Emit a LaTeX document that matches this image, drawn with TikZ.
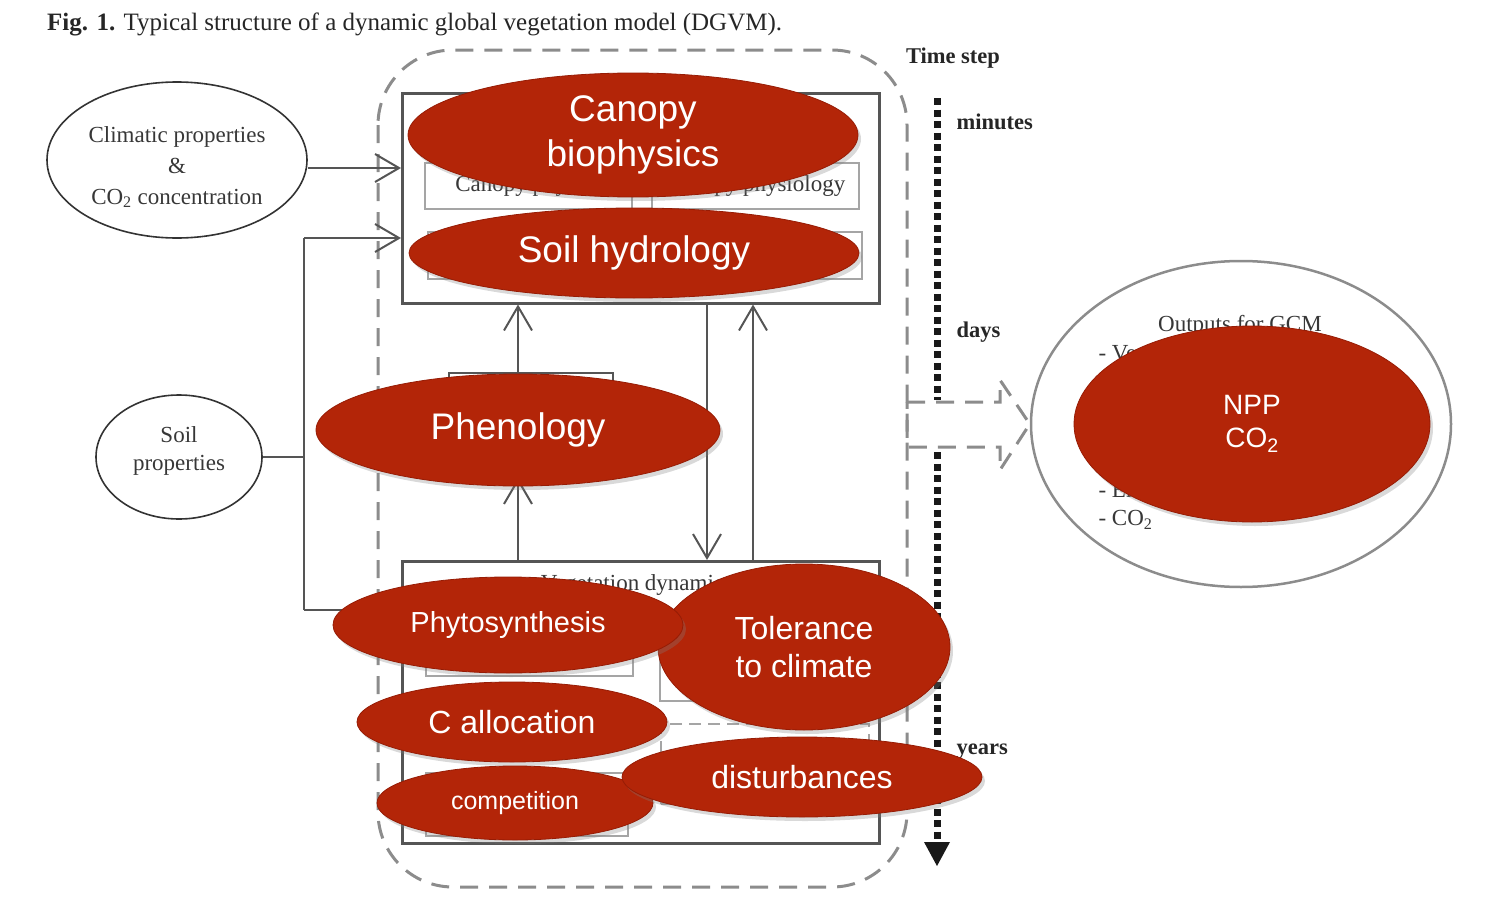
\documentclass[tikz,border=0pt]{standalone}
\usepackage{fontspec}
\setmainfont{Liberation Serif}
\newfontfamily\hv{Liberation Sans}
\usetikzlibrary{shapes.geometric,shadows,arrows.meta,calc}
\definecolor{redfill}{RGB}{179,37,8}
\definecolor{rededge}{RGB}{150,28,5}
\definecolor{txtgray}{RGB}{55,55,55}
\definecolor{linegray}{RGB}{85,85,85}
\definecolor{lightbox}{RGB}{165,165,165}
\definecolor{dashgray}{RGB}{140,140,140}
\tikzset{
  redell/.style={ellipse, fill=redfill, draw=rededge, line width=0.8pt, text=white,
    align=center, inner sep=0pt,
    drop shadow={shadow xshift=3pt, shadow yshift=-4pt, opacity=0.3}},
  serif/.style={text=txtgray, font=\fontsize{23}{30}\selectfont, align=center},
  boldlab/.style={text=black!85, font=\fontsize{22.5}{27}\selectfont\bfseries, anchor=west},
  inbox/.style={draw=lightbox, line width=2pt, rectangle, inner sep=0pt, anchor=north west},
  mainbox/.style={draw=linegray, line width=2.5pt, rectangle, inner sep=0pt, anchor=north west},
  conn/.style={draw=linegray, line width=2pt},
  barb/.style={-{Straight Barb[length=24pt,width=28pt]}},
  dashline/.style={draw=dashgray, line width=3pt, dash pattern=on 18pt off 11pt},
  inputell/.style={ellipse, draw=black!80, line width=1.6pt, inner sep=0pt}
}
\begin{document}
\begin{tikzpicture}[x=1pt,y=-1pt]
\useasboundingbox (0,0) rectangle (1500,910);
% caption
\node[anchor=west, text=black!85, font=\fontsize{25}{30}\selectfont, inner sep=0pt] (cap) at (47,24)
  {\textbf{Fig. 1.} Typical structure of a dynamic global vegetation model (DGVM).};
% big dashed frame
\draw[dashline, rounded corners=75pt] (378,50) rectangle (907,887);
% top box
\node[mainbox, minimum width=477pt, minimum height=210pt] (topbox) at (401,92) {};
\node[inbox, minimum width=207pt, minimum height=46pt, serif] (cphys) at (424,162) {Canopy physics};
\node[inbox, minimum width=207pt, minimum height=46pt, serif] (cphysio) at (651,162) {Canopy physiology};
\node[inbox, minimum width=434pt, minimum height=47pt] (shbox) at (427,231) {};
% vegetation box
\node[mainbox, minimum width=477pt, minimum height=282pt] (vegbox) at (401,560) {};
\node[serif] (vegtxt) at (637,585) {Vegetation dynamics};
\node[inbox, minimum width=207pt, minimum height=55pt] (pbox) at (425,620) {};
\node[inbox, minimum width=209pt, minimum height=80pt] (tbox) at (659,620) {};
\node[inbox, minimum width=208pt, minimum height=80pt, dashed, dash pattern=on 12pt off 7pt] (dbox) at (660,723) {};
\node[inbox, minimum width=202pt, minimum height=63pt] (cbox) at (425,772) {};
% phenology box
\node[mainbox, line width=2pt, minimum width=164pt, minimum height=104pt, fill=white] (phenbox) at (448,372) {};
% input ellipses
\node[inputell, minimum width=260pt, minimum height=156pt] (clim) at (177,160) {};
\node[serif, font=\fontsize{23}{31}\selectfont] (climtxt) at (177,167)
  {Climatic properties\\\&\\CO\textsubscript{2} concentration};
\node[inputell, minimum width=166pt, minimum height=124pt] (soil) at (179,457) {};
\node[serif, font=\fontsize{23}{28}\selectfont] (soiltxt) at (179,451) {Soil\\properties};
% connectors
\coordinate (c1) at ($(clim.east)+(0,8)$);
\draw[conn, barb] (c1) -- (c1 -| topbox.west);
\coordinate (busT) at (304,238);
\coordinate (busB) at (304,610);
\draw[conn] (soil.east) -- (soil.east -| busT);
\draw[conn] (busB) -- (busT);
\draw[conn, barb] (busT) -- (busT -| topbox.west);
\draw[conn, barb] (busB) -- (busB -| vegbox.west);
\coordinate (pa) at (518,0);
\draw[conn, barb] (pa |- phenbox.north) -- (pa |- topbox.south);
\draw[conn, barb] (pa |- vegbox.north) -- (pa |- phenbox.south);
\coordinate (da) at (707,0);
\draw[conn, barb] (da |- topbox.south) -- (da |- vegbox.north);
\coordinate (ua) at (753,0);
\draw[conn, barb] (ua |- vegbox.north) -- (ua |- topbox.south);
% output ellipse
\node[ellipse, draw=dashgray, line width=2.5pt, minimum width=420pt, minimum height=326pt, inner sep=0pt] (out) at (1241,424) {};
\node[serif] (outt) at (1240,326) {Outputs for GCM};
\node[serif, anchor=west] (o1) at (1095,355) {- Vegetation distribution};
\node[serif, anchor=west] (o2) at (1095,492) {- Energy and water fluxes};
\node[serif, anchor=west] (o3) at (1095,520) {- CO\textsubscript{2}};
% dashed output arrow
\draw[dashline] (907,402) -- (1000,402) -- (1000,380) -- (out.west) -- (1000,470) -- (1000,447) -- (907,447) -- cycle;
% time axis
\node[boldlab, anchor=center] (ts) at (953,58) {Time step};
\draw[black!90, line width=7pt, dash pattern=on 7pt off 4.5pt] (937,98) -- (937,400);
\draw[black!90, line width=7pt, dash pattern=on 7pt off 4.5pt] (937,452) -- (937,842);
\fill[black!90] (924,842) -- (950,842) -- (937,866) -- cycle;
\node[boldlab] (tmin) at (953,122) {minutes};
\node[boldlab] (tday) at (953,332) {days};
\node[boldlab] (tyear) at (953,752) {years};
% red overlay ellipses
\node[redell, minimum width=450pt, minimum height=124pt, font=\hv\fontsize{37}{45}\selectfont] (canopy) at (633,135) {Canopy\\biophysics};
\node[redell, minimum width=450pt, minimum height=90pt, font=\hv\fontsize{37}{45}\selectfont] (soilh) at (634,253) {Soil hydrology};
\node[redell, minimum width=404pt, minimum height=112pt, font=\hv\fontsize{37}{45}\selectfont] (phen) at (518,430) {Phenology};
\node[redell, minimum width=292pt, minimum height=166pt, font=\hv\fontsize{32}{38}\selectfont] (tol) at (804,647) {Tolerance\\to climate};
\node[redell, minimum width=350pt, minimum height=96pt, font=\hv\fontsize{29}{35}\selectfont] (photo) at (508,625) {Phytosynthesis};
\node[redell, minimum width=310pt, minimum height=80pt, font=\hv\fontsize{32}{38}\selectfont] (calloc) at (512,722) {C allocation};
\node[redell, minimum width=276pt, minimum height=74pt, font=\hv\fontsize{25}{30}\selectfont] (comp) at (515,803) {competition};
\node[redell, minimum width=360pt, minimum height=80pt, font=\hv\fontsize{32}{38}\selectfont] (dist) at (802,777) {disturbances};
\node[redell, minimum width=356pt, minimum height=196pt, font=\hv\fontsize{28}{33}\selectfont] (npp) at (1252,424) {NPP\\CO\textsubscript{2}};
\end{tikzpicture}
\end{document}
